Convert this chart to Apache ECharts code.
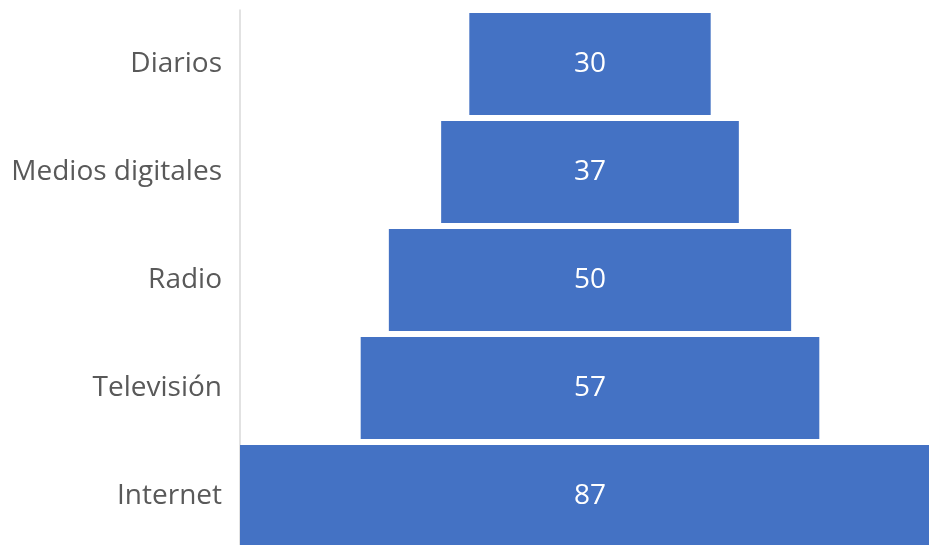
<!DOCTYPE html>
<html>
<head>
<meta charset="utf-8">
<script src="https://cdn.jsdelivr.net/npm/echarts@6/dist/echarts.min.js"></script>
<style>
html,body{margin:0;padding:0;background:#fff;}
#chart{width:929px;height:545px;}
</style>
</head>
<body>
<div id="chart"></div>
<script>
const categories = ["Diarios", "Medios digitales", "Radio", "Televisión", "Internet"];
const values = [30, 37, 50, 57, 87];
const maxValue = 87;
const offsets = values.map(v => (maxValue - v) / 2);

const chart = echarts.init(document.getElementById('chart'));
chart.setOption({
  animation: false,
  grid: { left: 240, top: 10, width: 700, height: 540, containLabel: false, outerBoundsMode: 'none' },
  xAxis: {
    type: 'value', min: 0, max: maxValue,
    show: false
  },
  yAxis: {
    type: 'category', data: categories, inverse: true,
    axisLine: { show: true, lineStyle: { color: '#D9D9D9', width: 1.5 } },
    axisTick: { show: false },
    axisLabel: { color: '#595959', fontSize: 28, fontFamily: 'Open Sans', margin: 18, padding: [5, 0, 0, 0] }
  },
  series: [
    {
      type: 'bar', stack: 'f', data: offsets, barWidth: 102,
      itemStyle: { color: 'transparent' }, silent: true
    },
    {
      type: 'bar', stack: 'f', data: values, barWidth: 102,
      itemStyle: { color: '#4472C4' },
      label: { show: true, position: 'inside', color: '#fff', fontSize: 28, fontFamily: 'Open Sans', padding: [5, 0, 0, 0] }
    }
  ]
});
</script>
</body>
</html>
